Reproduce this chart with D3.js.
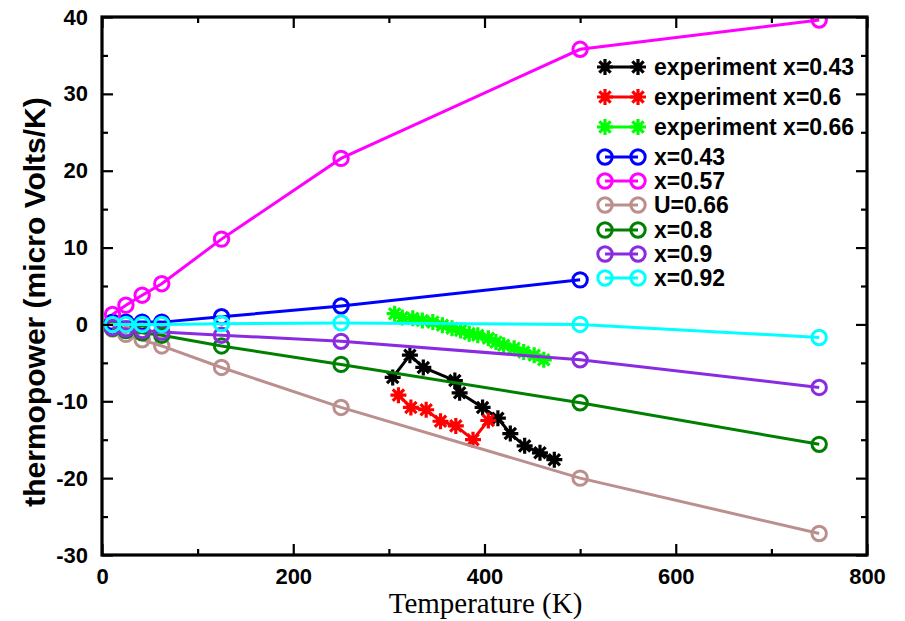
<!DOCTYPE html>
<html>
<head>
<meta charset="utf-8">
<script src="https://cdn.jsdelivr.net/npm/d3@7"></script>
<style>
  html, body { margin: 0; padding: 0; background: #fff; }
  svg { display: block; }
</style>
</head>
<body>
<svg id="chart" width="905" height="621"></svg>
<script>
// Temperature grid of the calculations (K)
const calcT = [11, 25, 42, 62.5, 125, 250, 500, 750];

// Calculated thermopower (micro Volts/K)
const calcX043 = [0.3, 0.3, 0.3, 0.3, 1.0, 2.4, 5.8];
const calcX057 = [1.3, 2.5, 3.8, 5.3, 11.1, 21.6, 35.8, 39.6];
const calcU066 = [-0.6, -1.3, -2.0, -2.8, -5.6, -10.8, -20.0, -27.2];
const calcX08  = [-0.5, -0.8, -1.1, -1.4, -2.8, -5.2, -10.2, -15.6];
const calcX09  = [-0.4, -0.6, -0.8, -1.0, -1.4, -2.2, -4.6, -8.2];
const calcX092 = [0.0, 0.0, 0.0, 0.0, 0.1, 0.2, 0.0, -1.7];

// Measured thermopower
const expT043 = [304, 322, 336, 369, 374, 398, 414, 427, 442, 458, 473];
const expS043 = [-6.9, -4.0, -5.6, -7.3, -8.9, -10.8, -12.2, -14.2, -15.8, -16.7, -17.6];
const expT06  = [310, 323, 339, 354, 370, 388, 404];
const expS06  = [-9.2, -10.8, -11.1, -12.6, -13.2, -15.0, -12.5];
const expT066 = [306, 314, 325, 335, 346, 356, 366, 375, 384, 393, 404, 412, 420, 431, 441, 452, 462];
const expS066 = [1.4, 0.9, 0.8, 0.5, 0.3, -0.1, -0.5, -0.8, -1.2, -1.4, -1.8, -2.3, -2.7, -3.1, -3.6, -4.0, -4.6];

const xTicks = [0, 200, 400, 600, 800];
const yTicks = [-30, -20, -10, 0, 10, 20, 30, 40];

const seriesList = [
  { name: "experiment x=0.43", color: "#000000", kind: "star", xs: expT043, ys: expS043 },
  { name: "experiment x=0.6",  color: "#ff0000", kind: "star", xs: expT06,  ys: expS06 },
  { name: "experiment x=0.66", color: "#00ff00", kind: "star", xs: expT066, ys: expS066 },
  { name: "x=0.43", color: "#0000ff", kind: "circle", xs: calcT, ys: calcX043 },
  { name: "x=0.57", color: "#ff00ff", kind: "circle", xs: calcT, ys: calcX057 },
  { name: "U=0.66", color: "#bc8f8f", kind: "circle", xs: calcT, ys: calcU066 },
  { name: "x=0.8",  color: "#008000", kind: "circle", xs: calcT, ys: calcX08 },
  { name: "x=0.9",  color: "#8a2be2", kind: "circle", xs: calcT, ys: calcX09 },
  { name: "x=0.92", color: "#00ffff", kind: "circle", xs: calcT, ys: calcX092 }
];

const svg = d3.select("#chart");
const plotL = 102, plotR = 867, plotT = 17, plotB = 555;

const x = d3.scaleLinear().domain([0, 800]).range([plotL, plotR]);
const y = d3.scaleLinear().domain([-30, 40]).range([plotB, plotT]);

svg.append("defs").append("clipPath").attr("id", "plotclip")
  .append("rect").attr("x", plotL).attr("y", plotT)
  .attr("width", plotR - plotL).attr("height", plotB - plotT);

// Series: each line with its markers
const plot = svg.append("g").attr("clip-path", "url(#plotclip)");
const line = d3.line().x(d => x(d[0])).y(d => y(d[1]));

function starPath(r) {
  let p = "";
  for (let i = 0; i < 4; i++) {
    const a = i * Math.PI / 4;
    const dx = r * Math.cos(a), dy = r * Math.sin(a);
    p += `M${-dx},${-dy}L${dx},${dy}`;
  }
  return p;
}

function drawMarker(g, kind, color, cx, cy) {
  if (kind === "star") {
    g.append("path").attr("d", starPath(8))
      .attr("transform", `translate(${cx},${cy})`)
      .attr("stroke", color).attr("stroke-width", 3.2).attr("fill", "none");
  } else {
    g.append("circle").attr("cx", cx).attr("cy", cy).attr("r", 7.2)
      .attr("stroke", color).attr("stroke-width", 3).attr("fill", "none");
  }
}

seriesList.forEach(s => {
  const pts = s.ys.map((v, i) => [s.xs[i], v]);
  const g = plot.append("g");
  g.append("path").datum(pts).attr("d", line)
    .attr("fill", "none").attr("stroke", s.color).attr("stroke-width", 3);
  pts.forEach(p => drawMarker(g, s.kind, s.color, x(p[0]), y(p[1])));
});

// Axes with inward ticks on all four sides
const tickFont = "bold 22px 'Liberation Sans', Arial, sans-serif";
const fmt = v => String(v);   // plain hyphen for negatives
const minorX = d3.range(0, 801, 100).filter(v => !xTicks.includes(v));
const minorY = d3.range(-30, 41, 5).filter(v => !yTicks.includes(v));

function styleAxis(g) {
  g.select(".domain").remove();
  g.selectAll(".tick line").attr("stroke", "#000").attr("stroke-width", 2.2);
}

const bx = svg.append("g").attr("transform", `translate(0,${plotB})`)
  .call(d3.axisBottom(x).tickValues(xTicks).tickSize(-11).tickPadding(13).tickFormat(fmt));
styleAxis(bx);
bx.selectAll(".tick text").style("font", tickFont).attr("fill", "#000");
svg.append("g").attr("transform", `translate(0,${plotB})`)
  .call(d3.axisBottom(x).tickValues(minorX).tickSize(-6).tickFormat("")).call(styleAxis);
svg.append("g").attr("transform", `translate(0,${plotT})`)
  .call(d3.axisTop(x).tickValues(xTicks).tickSize(-11).tickFormat("")).call(styleAxis);
svg.append("g").attr("transform", `translate(0,${plotT})`)
  .call(d3.axisTop(x).tickValues(minorX).tickSize(-6).tickFormat("")).call(styleAxis);

const ly = svg.append("g").attr("transform", `translate(${plotL},0)`)
  .call(d3.axisLeft(y).tickValues(yTicks).tickSize(-11).tickPadding(14).tickFormat(fmt));
styleAxis(ly);
ly.selectAll(".tick text").style("font", tickFont).attr("fill", "#000");
svg.append("g").attr("transform", `translate(${plotL},0)`)
  .call(d3.axisLeft(y).tickValues(minorY).tickSize(-6).tickFormat("")).call(styleAxis);
svg.append("g").attr("transform", `translate(${plotR},0)`)
  .call(d3.axisRight(y).tickValues(yTicks).tickSize(-11).tickFormat("")).call(styleAxis);
svg.append("g").attr("transform", `translate(${plotR},0)`)
  .call(d3.axisRight(y).tickValues(minorY).tickSize(-6).tickFormat("")).call(styleAxis);

// Frame
svg.append("rect").attr("x", plotL).attr("y", plotT)
  .attr("width", plotR - plotL).attr("height", plotB - plotT)
  .attr("fill", "none").attr("stroke", "#000").attr("stroke-width", 3.2);

// Axis titles
svg.append("text")
  .attr("x", (plotL + plotR) / 2 + 1).attr("y", 613)
  .attr("text-anchor", "middle")
  .style("font", "29px 'Liberation Serif', 'Times New Roman', serif")
  .text("Temperature (K)");

svg.append("text")
  .attr("transform", "translate(45,302) rotate(-90)")
  .attr("text-anchor", "middle")
  .style("font", "bold 30px 'Liberation Sans', Arial, sans-serif")
  .text("thermopower (micro Volts/K)");

// Legend
const legendRows = [67, 97, 127, 157, 181, 205, 230, 254, 278];
const legend = svg.append("g");
seriesList.forEach((s, i) => {
  const ry = legendRows[i];
  const g = legend.append("g");
  g.append("line").attr("x1", 605).attr("x2", 638).attr("y1", ry).attr("y2", ry)
    .attr("stroke", s.color).attr("stroke-width", 3);
  drawMarker(g, s.kind, s.color, 605, ry);
  drawMarker(g, s.kind, s.color, 638, ry);
  g.append("text").attr("x", 654).attr("y", ry + 8)
    .style("font", "bold 23px 'Liberation Sans', Arial, sans-serif")
    .attr("fill", "#000")
    .text(s.name);
});
</script>
</body>
</html>
